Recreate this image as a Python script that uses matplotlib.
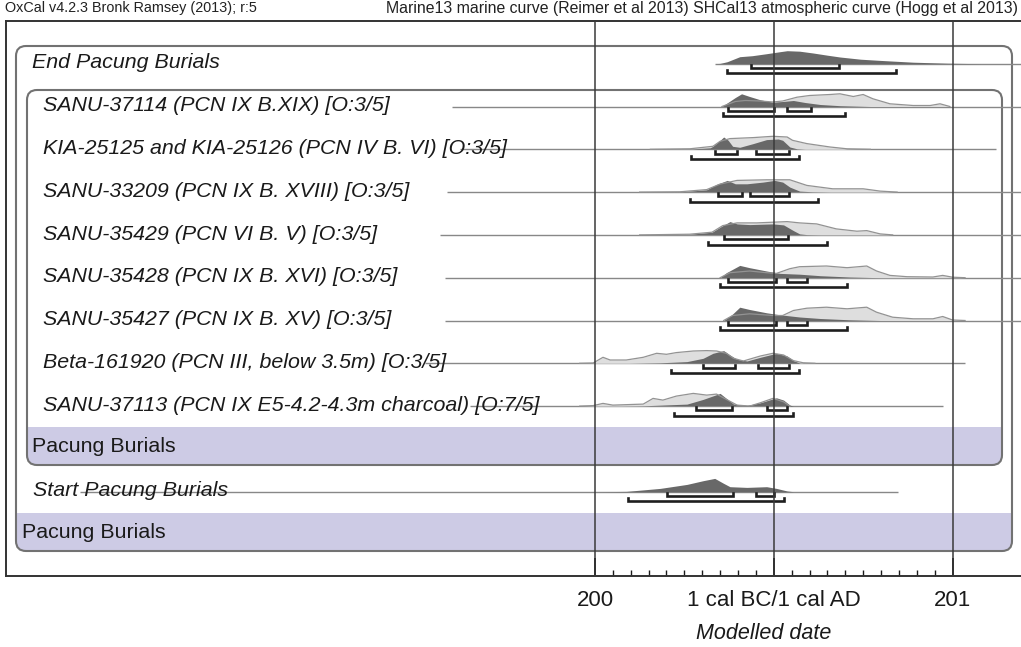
import matplotlib
matplotlib.use("Agg")
import matplotlib.pyplot as plt
from matplotlib.patches import FancyBboxPatch, Rectangle
from matplotlib.transforms import Affine2D, blended_transform_factory

# ---- data (x in years, p = relative probability) ----
row_labels = [
    "End Pacung Burials",
    "SANU-37114 (PCN IX B.XIX) [O:3/5]",
    "KIA-25125 and KIA-25126 (PCN IV B. VI) [O:3/5]",
    "SANU-33209 (PCN IX B. XVIII) [O:3/5]",
    "SANU-35429 (PCN VI B. V) [O:3/5]",
    "SANU-35428 (PCN IX B. XVI) [O:3/5]",
    "SANU-35427 (PCN IX B. XV) [O:3/5]",
    "Beta-161920 (PCN III, below 3.5m) [O:3/5]",
    "SANU-37113 (PCN IX E5-4.2-4.3m charcoal) [O:7/5]",
    "Pacung Burials",
    "Start Pacung Burials",
    "Pacung Burials",
]

end_post_x = [-66, -60, -52, -38, -24, -8, 7, 15, 29, 44, 60, 74, 97, 119, 156, 194, 231]
end_post_p = [0, 0.3, 2, 7, 8, 10, 12, 13, 12.5, 10.7, 8.5, 6.7, 4.5, 3.3, 1.5, 0.5, 0]

s37114_like_x = [-58, -43, -32, -15, -1, 10, 26, 40, 63, 74, 89, 100, 111, 130, 156, 175, 186, 197]
s37114_like_p = [0, 5, 6, 5.5, 4.5, 5.5, 9.3, 11, 12, 12.7, 10, 12, 7.7, 2.7, 1, 1, 2.7, 0]
s37114_post_x = [-58, -43, -36, -27, -15, -1, 10, 22, 35, 52, 74, 108]
s37114_post_p = [0, 9, 12.7, 10, 6.7, 4.3, 5, 6, 4, 2, 0.8, 0]

kia_like_x = [-138, -94, -68, -60, -49, -23, -1, 15, 21, 37, 63, 82, 108]
kia_like_p = [0, 0.5, 3, 8, 10.7, 11.7, 13, 12.3, 9, 5.7, 2.3, 0.5, 0]
kia_post_x = [-138, -94, -71, -68, -60, -56, -51, -46, -38, -23, -8, 5, 10, 18, 26, 35]
kia_post_p = [0, 0.3, 1.5, 3, 9, 12.3, 9, 3, 2, 5.7, 9.7, 10.3, 9, 2.3, 0.5, 0]

s33209_like_x = [-150, -105, -75, -60, -41, -8, 18, 37, 66, 100, 119, 138]
s33209_like_p = [0, 0.3, 2.5, 8, 11.7, 12.3, 12.3, 6.7, 3.3, 3.3, 1, 0]
s33209_post_x = [-150, -105, -75, -64, -52, -43, -30, -12, 1, 10, 18, 29, 44, 63]
s33209_post_p = [0, 0.3, 2.3, 7.7, 11.7, 8.3, 8.3, 10, 11.7, 10, 5, 1, 0.3, 0]

s35429_like_x = [-150, -94, -69, -57, -41, -19, 15, 29, 48, 70, 93, 104, 119, 133]
s35429_like_p = [0, 0.7, 2.7, 9.3, 12, 12, 13.3, 12, 11, 6, 3.7, 4.3, 1, 0]
s35429_post_x = [-150, -94, -69, -60, -49, -41, -27, -1, 11, 22, 29, 37, 52]
s35429_post_p = [0, 0.7, 2.7, 7.7, 13.3, 11, 10.3, 11, 10, 4.3, 1, 0.3, 0]

s35428_like_x = [-60, -49, -27, -8, 3, 18, 29, 59, 82, 104, 115, 130, 149, 178, 189, 200, 214]
s35428_like_p = [0, 5, 6.7, 5, 4.3, 9, 11, 11.7, 10, 11.7, 6.7, 2.3, 1, 0.7, 2.3, 0.5, 0]
s35428_post_x = [-60, -53, -38, -27, -8, 7, 29, 52, 85, 119]
s35428_post_p = [0, 5, 12.3, 10, 6.7, 4.3, 3.5, 2, 0.7, 0]

s35427_like_x = [-56, -46, -27, -1, 10, 22, 37, 59, 82, 104, 115, 133, 156, 178, 189, 200, 214]
s35427_like_p = [0, 5, 6.7, 5, 5, 10, 12.3, 13.3, 11.7, 13.3, 8.3, 3.3, 1.7, 1.7, 4, 0.5, 0]
s35427_post_x = [-56, -47, -38, -27, -8, 7, 29, 52, 85, 119]
s35427_post_p = [0, 5.7, 13.3, 11, 7.7, 5.7, 3.5, 2, 0.7, 0]

beta_like_x = [-217, -202, -191, -183, -165, -146, -131, -120, -109, -90, -75, -64, -53, -45, -34, -15, -1, 11, 22, 33, 46]
beta_like_p = [0, 0.3, 6, 3.3, 3.3, 6, 10, 9, 10.7, 12.3, 12.7, 12.3, 10, 5, 2.3, 7.3, 10, 8.3, 2.7, 0.5, 0]
beta_post_x = [-161, -127, -97, -79, -68, -56, -49, -41, -30, -15, 3, 15, 22, 29, 41]
beta_post_p = [0, 0.5, 1.7, 5, 10, 12.7, 8.3, 4, 2.3, 6, 10, 7.3, 2.7, 0.3, 0]

s37113_like_x = [-217, -202, -191, -180, -146, -135, -124, -109, -90, -75, -64, -53, -41, -27, -15, -1, 11, 18]
s37113_like_p = [0, 0.5, 2.7, 1, 2, 7.7, 6, 10, 12.7, 11, 12, 6.7, 1, 0, 3.3, 7.7, 4.3, 0]
s37113_post_x = [-170, -146, -97, -79, -60, -53, -45, -30, -15, 3, 11, 18, 22]
s37113_post_p = [0, 0.3, 2, 6.7, 12.7, 7.7, 2, 0.7, 3.3, 8.3, 6, 1, 0]

start_post_x = [-194, -165, -127, -97, -79, -66, -56, -49, -30, -8, 3, 15, 22]
start_post_p = [0, 0.3, 3.3, 7.3, 11, 13.3, 8.3, 5, 4.3, 5, 3.3, 0.7, 0]

# highest posterior density ranges (68.2% and 95.4%)
end_68 = [(-25, 73)]
end_95 = [(-52, 137)]
s37114_68 = [(-51, 0), (15, 42)]
s37114_95 = [(-57, 80)]
kia_68 = [(-66, -41), (-20, 17)]
kia_95 = [(-93, 28)]
s33209_68 = [(-62, -36), (-27, 17)]
s33209_95 = [(-94, 50)]
s35429_68 = [(-56, 16)]
s35429_95 = [(-73, 60)]
s35428_68 = [(-51, 3), (15, 37)]
s35428_95 = [(-60, 82)]
s35427_68 = [(-51, 3), (15, 37)]
s35427_95 = [(-60, 82)]
beta_68 = [(-79, -43), (-18, 17)]
beta_95 = [(-115, 28)]
s37113_68 = [(-87, -47), (-7, 15)]
s37113_95 = [(-112, 21)]
start_68 = [(-119, -46), (-20, 0)]
start_95 = [(-163, 12)]

# span of the calculated range line for each row
line_spans = [(-66, 300), (-360, 300), (-351, 249), (-365, 300), (-373, 300),
              (-368, 300), (-368, 300), (-390, 214), (-340, 189), None, (-776, 139), None]

major_ticks = [-200, 0, 200]
major_labels = ["200", "1 cal BC/1 cal AD", "201"]
minor_ticks = [-180, -160, -140, -120, -100, -80, -60, -40, -20,
               20, 40, 60, 80, 100, 120, 140, 160, 180]

rows = [
    (None, None, end_post_x, end_post_p, end_68, end_95),
    (s37114_like_x, s37114_like_p, s37114_post_x, s37114_post_p, s37114_68, s37114_95),
    (kia_like_x, kia_like_p, kia_post_x, kia_post_p, kia_68, kia_95),
    (s33209_like_x, s33209_like_p, s33209_post_x, s33209_post_p, s33209_68, s33209_95),
    (s35429_like_x, s35429_like_p, s35429_post_x, s35429_post_p, s35429_68, s35429_95),
    (s35428_like_x, s35428_like_p, s35428_post_x, s35428_post_p, s35428_68, s35428_95),
    (s35427_like_x, s35427_like_p, s35427_post_x, s35427_post_p, s35427_68, s35427_95),
    (beta_like_x, beta_like_p, beta_post_x, beta_post_p, beta_68, beta_95),
    (s37113_like_x, s37113_like_p, s37113_post_x, s37113_post_p, s37113_68, s37113_95),
    None,
    (None, None, start_post_x, start_post_p, start_68, start_95),
    None,
]

# ---- styling ----
W, H = 1021, 647
plt.rcParams['font.family'] = 'Liberation Sans'
DARK = '#686868'
LIGHT = '#dedede'
LIGHT_EDGE = '#939393'
BAND = '#cdcbe5'
BOX = '#727272'
P_SCALE = 1 / 42.8   # relative probability -> row units


def yr(px):
    # image x pixel -> calendar year (layout helper for the axes limits)
    return (px - 773.75) / 0.894


def row_at(py):
    return (py - 63.7) / 42.8


fig = plt.figure(figsize=(W / 100, H / 100), dpi=100)
ax = fig.add_axes([6 / W, (H - 576) / H, (W - 6) / W, (576 - 21) / H])
ax.patch.set_visible(False)
ax.set_xlim(yr(6), yr(1021))
ax.set_ylim(row_at(576), row_at(21))

pix = Affine2D().scale(1 / W, -1 / H).translate(0, 1) + fig.transFigure
lab_tr = blended_transform_factory(pix, ax.transData)

# group boxes and the "Pacung Burials" bands
box_specs = [(16, 46, 996, 505), (27, 90, 975, 375)]
outer, inner = [FancyBboxPatch((x, y), w, h, boxstyle="round,pad=0,rounding_size=10", transform=pix)
                for x, y, w, h in box_specs]
band1 = Rectangle((27, 427), 975, 38, transform=pix, fc=BAND, ec='none', zorder=0.2)
band2 = Rectangle((16, 513), 996, 38, transform=pix, fc=BAND, ec='none', zorder=0.2)
ax.add_artist(band1)
ax.add_artist(band2)
band1.set_clip_path(inner)
band2.set_clip_path(outer)
for x, y, w, h in box_specs:
    ax.add_artist(FancyBboxPatch((x, y), w, h, boxstyle="round,pad=0,rounding_size=10",
                                 transform=pix, fc='none', ec=BOX, lw=1.5, zorder=0.3))

# distributions
for r, row in enumerate(rows):
    if row is None:
        continue
    lx, lp, dx, dp, r68, r95 = row
    span = line_spans[r]
    ax.hlines(r, span[0], span[1], color='#888888', lw=1.0, zorder=1)
    if lx is not None:
        ly = [r - p * P_SCALE for p in lp]
        ax.fill_between(lx, ly, r, color=LIGHT, lw=0, zorder=2)
    dy = [r - p * P_SCALE for p in dp]
    ax.fill_between(dx, dy, r, color=DARK, lw=0, zorder=3)
    if lx is not None:
        ax.plot(lx, ly, color=LIGHT_EDGE, lw=0.9, zorder=4)
    for off, ranges in ((0.10, r68), (0.225, r95)):
        y = r + off
        for a, b in ranges:
            ax.plot([a, a, b, b], [y - 0.07, y, y, y - 0.07], color='#1e1e1e',
                    lw=1.9, solid_joinstyle='miter', zorder=5)

# vertical reference lines at the labelled dates
for t in major_ticks:
    ax.axvline(t, color='#3a3a3a', lw=1.1, zorder=6)

# row labels
label_x = [32, 43, 43, 43, 43, 43, 43, 43, 43, 32, 33, 22]
for r, text in enumerate(row_labels):
    is_band = rows[r] is None
    ax.text(label_x[r], r - 0.02 if not is_band else r - 0.05, text, transform=lab_tr,
            fontsize=15.4, style='normal' if is_band else 'italic',
            color='#1a1a1a', va='center', ha='left', zorder=7)

# axis
ax.set_yticks([])
ax.set_xticks(major_ticks, labels=major_labels)
ax.set_xticks(minor_ticks, minor=True)
ax.tick_params(axis='x', which='major', direction='in', length=13, width=1.4,
               labelsize=16, pad=10, colors='#1a1a1a')
ax.tick_params(axis='x', which='minor', direction='in', length=4, width=1.0, colors='#1a1a1a')
ax.spines['right'].set_visible(False)
for s in ('left', 'top', 'bottom'):
    ax.spines[s].set_color('#333333')
    ax.spines[s].set_linewidth(1.4)
ax.set_xlabel("Modelled date", fontsize=15.5, style='italic', color='#1a1a1a')
ax.xaxis.set_label_coords((764 - 6) / (W - 6), -0.085)

# header
fig.text(5, 8, "OxCal v4.2.3 Bronk Ramsey (2013); r:5", transform=pix,
         fontsize=10.4, va='center', ha='left', color='#222222')
fig.text(1018, 8, "Marine13 marine curve (Reimer et al 2013) SHCal13 atmospheric curve (Hogg et al 2013)",
         transform=pix, fontsize=11.4, va='center', ha='right', color='#222222')

fig.savefig("out.png", dpi=100)
